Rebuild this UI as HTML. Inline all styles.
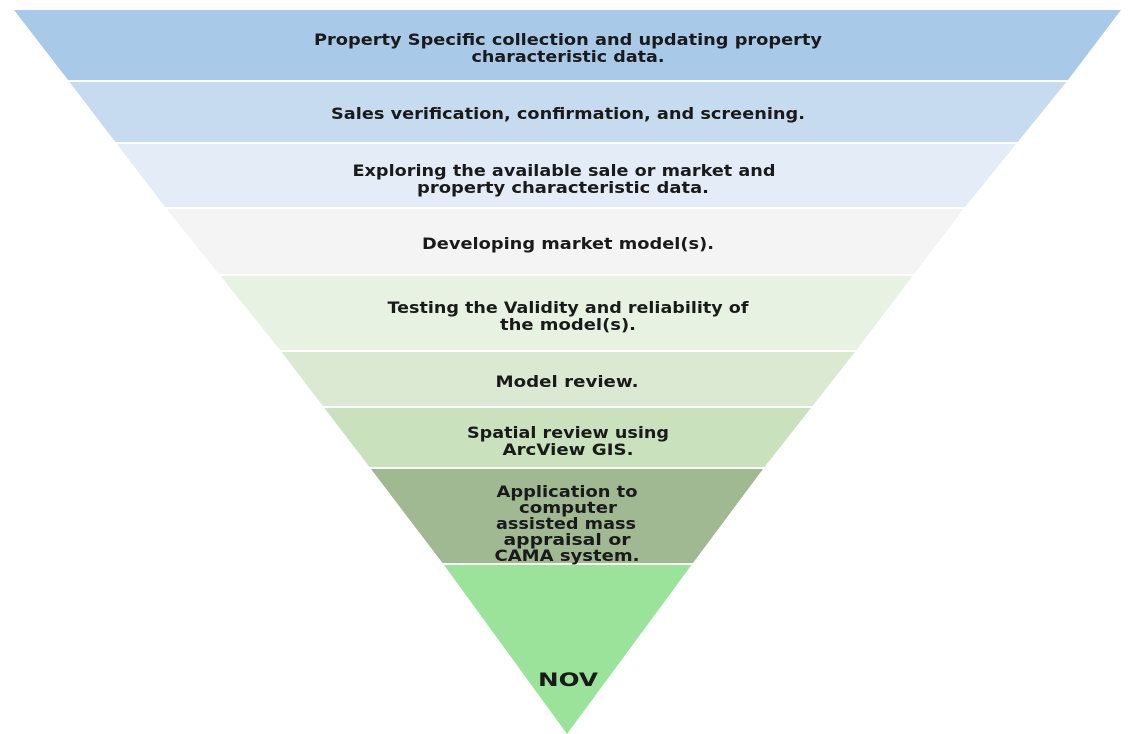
<!DOCTYPE html>
<html><head><style>
html,body{margin:0;padding:0;background:#fff;width:1128px;height:734px;overflow:hidden}
svg text{font-family:"DejaVu Sans","Liberation Sans",sans-serif;font-size:16px;font-weight:bold;fill:#1a1a1a;text-anchor:middle}
</style></head><body>
<svg width="1128" height="734" xmlns="http://www.w3.org/2000/svg">
<defs><clipPath id="t"><polygon points="14,10 1121,10 1068,80 965,207 855,352 763,469 693,563 567,734 444,565 371,469 280,350 165,207 68,80"/></clipPath></defs>
<g clip-path="url(#t)">
<rect x="0" y="10" width="1128" height="70" fill="#a9c9e8"/>
<rect x="0" y="82" width="1128" height="60" fill="#c6dbef"/>
<rect x="0" y="144" width="1128" height="63" fill="#e3ecf7"/>
<rect x="0" y="209" width="1128" height="65" fill="#f4f4f4"/>
<rect x="0" y="276" width="1128" height="74" fill="#e8f2e3"/>
<rect x="0" y="352" width="1128" height="54" fill="#dbe9d3"/>
<rect x="0" y="408" width="1128" height="59" fill="#c9e1bd"/>
<rect x="0" y="469" width="1128" height="94" fill="#a1b992"/>
<rect x="0" y="565" width="1128" height="170" fill="#9be39a"/>
</g>
<text x="568" y="45" textLength="508" lengthAdjust="spacingAndGlyphs">Property Specific collection and updating property</text>
<text x="568" y="62" textLength="193" lengthAdjust="spacingAndGlyphs">characteristic data.</text>
<text x="568" y="119" textLength="474" lengthAdjust="spacingAndGlyphs">Sales verification, confirmation, and screening.</text>
<text x="564" y="176" textLength="423" lengthAdjust="spacingAndGlyphs">Exploring the available sale or market and</text>
<text x="563" y="193" textLength="292" lengthAdjust="spacingAndGlyphs">property characteristic data.</text>
<text x="568" y="249" textLength="292" lengthAdjust="spacingAndGlyphs">Developing market model(s).</text>
<text x="568" y="313" textLength="361" lengthAdjust="spacingAndGlyphs">Testing the Validity and reliability of</text>
<text x="568" y="330" textLength="136" lengthAdjust="spacingAndGlyphs">the model(s).</text>
<text x="567" y="387" textLength="143" lengthAdjust="spacingAndGlyphs">Model review.</text>
<text x="568" y="438" textLength="202" lengthAdjust="spacingAndGlyphs">Spatial review using</text>
<text x="568" y="455" textLength="131" lengthAdjust="spacingAndGlyphs">ArcView GIS.</text>
<text x="567" y="497" textLength="141" lengthAdjust="spacingAndGlyphs">Application to</text>
<text x="568" y="513" textLength="98" lengthAdjust="spacingAndGlyphs">computer</text>
<text x="566" y="529" textLength="140" lengthAdjust="spacingAndGlyphs">assisted mass</text>
<text x="567" y="545" textLength="127" lengthAdjust="spacingAndGlyphs">appraisal or</text>
<text x="567" y="561" textLength="145" lengthAdjust="spacingAndGlyphs">CAMA system.</text>
<text x="568" y="686" style="font-size:19px" textLength="60" lengthAdjust="spacingAndGlyphs">NOV</text>
</svg>
</body></html>
